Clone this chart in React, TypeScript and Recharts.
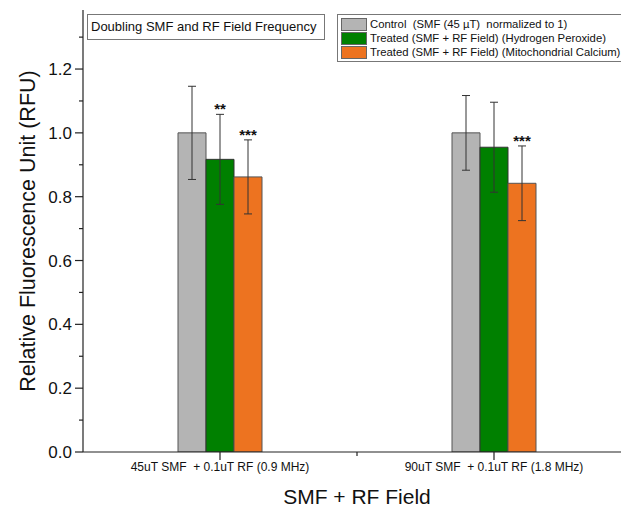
import { Bar, BarChart, ErrorBar, Label, LabelList, Legend, XAxis, YAxis } from "recharts";

const categories = ["45uT SMF  + 0.1uT RF (0.9 MHz)", "90uT SMF  + 0.1uT RF (1.8 MHz)"];
const controlMean = [1.0, 1.0];
const controlErr = [0.146, 0.117];
const peroxideMean = [0.917, 0.955];
const peroxideErr = [0.141, 0.141];
const calciumMean = [0.862, 0.842];
const calciumErr = [0.116, 0.117];
const peroxideStars = ["**", ""];
const calciumStars = ["***", "***"];
const yTicks = [0, 0.1, 0.2, 0.3, 0.4, 0.5, 0.6, 0.7, 0.8, 0.9, 1.0, 1.1, 1.2, 1.3];

const data = categories.map((name, i) => ({
  name,
  control: controlMean[i],
  controlErr: controlErr[i],
  peroxide: peroxideMean[i],
  peroxideErr: peroxideErr[i],
  peroxideStars: peroxideStars[i],
  calcium: calciumMean[i],
  calciumErr: calciumErr[i],
  calciumStars: calciumStars[i],
}));

const FONT = "Arial, 'Liberation Sans', sans-serif";
const INK = "#222";

function YTick(props: any) {
  const { x, y, payload } = props;
  const v = payload.value as number;
  const major = Math.round(v * 10) % 2 === 0;
  return (
    <g>
      <line x1={x - (major ? 8 : 4)} x2={x} y1={y} y2={y} stroke={INK} strokeWidth={1.2} />
      {major && (
        <text x={x - 11} y={y} dy={6} textAnchor="end" fontSize={17} fill="#111" fontFamily={FONT}>
          {v.toFixed(1)}
        </text>
      )}
    </g>
  );
}

function XTick(props: any) {
  const { x, y, payload } = props;
  const half = payload.offset || 0;
  return (
    <g>
      <line x1={x} x2={x} y1={y} y2={y + 8} stroke={INK} strokeWidth={1.2} />
      {half ? <line x1={x + half} x2={x + half} y1={y} y2={y + 4} stroke={INK} strokeWidth={1.2} /> : null}
      <text x={x} y={y + 19} textAnchor="middle" fontSize={12} fill="#111" fontFamily={FONT} style={{ whiteSpace: "pre" }}>
        {payload.value}
      </text>
    </g>
  );
}

// stars sit just above the error bar cap; bar height/mean gives px per unit
function starLabel(means: number[], errs: number[]) {
  return (props: any) => {
    const { x, y, width, height, value, index } = props;
    if (!value) return null;
    const top = y - (errs[index] * height) / means[index];
    return (
      <text x={x + width / 2} y={top} textAnchor="middle" fontSize={15} fontWeight="bold" fill="#111" fontFamily={FONT}>
        {value}
      </text>
    );
  };
}

function LegendBox(props: any) {
  const items = props.payload || [];
  return (
    <div
      style={{
        border: "1px solid #777",
        background: "#fff",
        padding: "2px 12px 2px 3px",
        fontFamily: FONT,
        fontSize: 11.3,
        color: "#111",
        whiteSpace: "pre",
      }}
    >
      {items.map((it: any) => (
        <div key={it.value} style={{ display: "flex", alignItems: "center", height: 14 }}>
          <span
            style={{
              width: 24,
              height: 11,
              background: it.color,
              border: "1px solid #666",
              marginRight: 3,
            }}
          />
          <span>{it.value}</span>
        </div>
      ))}
    </div>
  );
}

export default function App() {
  return (
    <div style={{ position: "absolute", left: 0, top: 0, width: 621, height: 509, overflow: "hidden", background: "#fff" }}>
      <BarChart
        width={640}
        height={509}
        data={data}
        margin={{ top: 10, right: 9, bottom: 0, left: 0 }}
        barCategoryGap={95}
        barGap={0}
      >
        <XAxis
          dataKey="name"
          height={57}
          tickSize={0}
          tickMargin={0}
          tickLine={false}
          tick={XTick}
          axisLine={{ stroke: INK, strokeWidth: 1.2 }}
        >
          <Label value="SMF + RF Field" position="insideBottom" offset={5} fontSize={21} fill="#111" fontFamily={FONT} />
        </XAxis>
        <XAxis xAxisId="top" orientation="top" height={0} tick={false} tickLine={false} axisLine={{ stroke: INK, strokeWidth: 1.2 }} />
        <YAxis
          width={83}
          domain={[0, 1.385]}
          ticks={yTicks}
          interval={0}
          allowDataOverflow
          tickSize={0}
          tickMargin={0}
          tickLine={false}
          tick={YTick}
          axisLine={{ stroke: INK, strokeWidth: 1.2 }}
        >
          <Label
            content={(p: any) => {
              const vb = p.viewBox;
              const cx = 28;
              const cy = vb.y + vb.height / 2;
              return (
                <text
                  x={cx}
                  y={cy}
                  transform={`rotate(-90 ${cx} ${cy})`}
                  textAnchor="middle"
                  dominantBaseline="central"
                  fontSize={21.5}
                  fill="#111"
                  fontFamily={FONT}
                >
                  Relative Fluorescence Unit (RFU)
                </text>
              );
            }}
          />
        </YAxis>
        <Legend
          layout="vertical"
          align="center"
          verticalAlign="middle"
          content={LegendBox}
          wrapperStyle={{ position: "absolute", left: 337, top: 14, width: "auto" }}
        />
        <Bar dataKey="control" name="Control  (SMF (45 µT)  normalized to 1)" fill="#b4b4b4" stroke="#555" strokeWidth={1} isAnimationActive={false}>
          <ErrorBar dataKey="controlErr" width={4} stroke="#333" strokeWidth={1} />
        </Bar>
        <Bar dataKey="peroxide" name="Treated (SMF + RF Field) (Hydrogen Peroxide)" fill="#008000" stroke="#333" strokeWidth={1} isAnimationActive={false}>
          <ErrorBar dataKey="peroxideErr" width={4} stroke="#333" strokeWidth={1} />
          <LabelList dataKey="peroxideStars" content={starLabel(peroxideMean, peroxideErr)} />
        </Bar>
        <Bar dataKey="calcium" name="Treated (SMF + RF Field) (Mitochondrial Calcium)" fill="#ed7320" stroke="#555" strokeWidth={1} isAnimationActive={false}>
          <ErrorBar dataKey="calciumErr" width={4} stroke="#333" strokeWidth={1} />
          <LabelList dataKey="calciumStars" content={starLabel(calciumMean, calciumErr)} />
        </Bar>
      </BarChart>
      <div
        style={{
          position: "absolute",
          left: 87,
          top: 14,
          width: 233,
          height: 24,
          border: "1px solid #777",
          fontFamily: FONT,
          fontSize: 13,
          color: "#111",
          lineHeight: "24px",
          paddingLeft: 3,
          background: "#fff",
          whiteSpace: "nowrap",
        }}
      >
        Doubling SMF and RF Field Frequency
      </div>
    </div>
  );
}
